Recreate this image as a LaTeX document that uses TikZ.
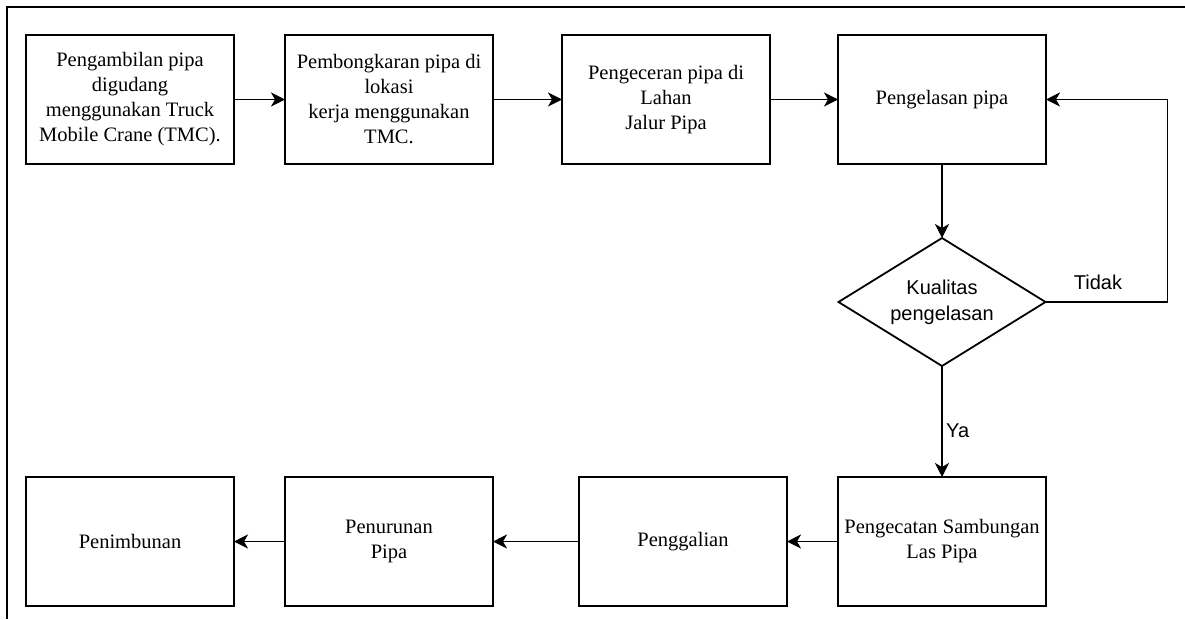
\documentclass[tikz,border=0pt]{standalone}
\usepackage{fontspec}
\setmainfont{Liberation Serif}
\setsansfont{Liberation Sans}
\usetikzlibrary{shapes.geometric, arrows.meta, positioning}
\tikzstyle{block} = [draw, rectangle, line width=1.8pt, align=center,
    outer sep=0pt, minimum height=129pt, minimum width=208pt,
    font=\fontsize{20.5}{25}\selectfont]
\tikzstyle{decision} = [draw, diamond, aspect=2, line width=1.8pt, align=center,
    inner sep=0pt, outer sep=0pt, minimum height=128pt, minimum width=207pt,
    font=\sffamily\fontsize{20}{26}\selectfont]
\tikzstyle{note} = [font=\sffamily\fontsize{20}{24}\selectfont]
\tikzstyle{arrow} = [line width=1.8pt, -{Stealth[length=14pt, width=14pt, inset=4pt]}]

\begin{document}
\begin{tikzpicture}[x=1pt, y=1pt, node distance=51pt]

            \useasboundingbox (0,0) rectangle (1185,-619);
            \draw [line width=2.4pt] (1185,-7) -- (7,-7) -- (7,-619);

            % Blocks
            \node (ambil) [block] at (130,-99.5) {Pengambilan pipa\\digudang\\menggunakan Truck\\Mobile Crane (TMC).};
            \node (bongkar) [block, right=of ambil] {Pembongkaran pipa di\\lokasi\\kerja menggunakan\\TMC.};
            \node (ecer) [block, right=69pt of bongkar] {Pengeceran pipa di\\Lahan\\Jalur Pipa};
            \node (las) [block, right=68pt of ecer] {Pengelasan pipa};
            \node (mutu) [decision, below=74pt of las] {Kualitas\\pengelasan};
            \node (cat) [block, below=111pt of mutu] {Pengecatan Sambungan\\Las Pipa};
            \node (gali) [block, left=of cat] {Penggalian};
            \node (turun) [block, left=86pt of gali] {Penurunan\\Pipa};
            \node (timbun) [block, left=of turun] {Penimbunan};

            % Arrows
            \draw [arrow] (ambil) -- (bongkar);
            \draw [arrow] (bongkar) -- (ecer);
            \draw [arrow] (ecer) -- (las);
            \draw [arrow] (las) -- (mutu);
            \draw [arrow] (mutu.east) -- ++(122,0) node [note, above=8pt, pos=0.43] {Tidak} |- (las.east);
            \draw [arrow] (mutu) -- node [note, right, pos=0.58] {Ya} (cat);
            \draw [arrow] (cat) -- (gali);
            \draw [arrow] (gali) -- (turun);
            \draw [arrow] (turun) -- (timbun);

        \end{tikzpicture}
\end{document}
